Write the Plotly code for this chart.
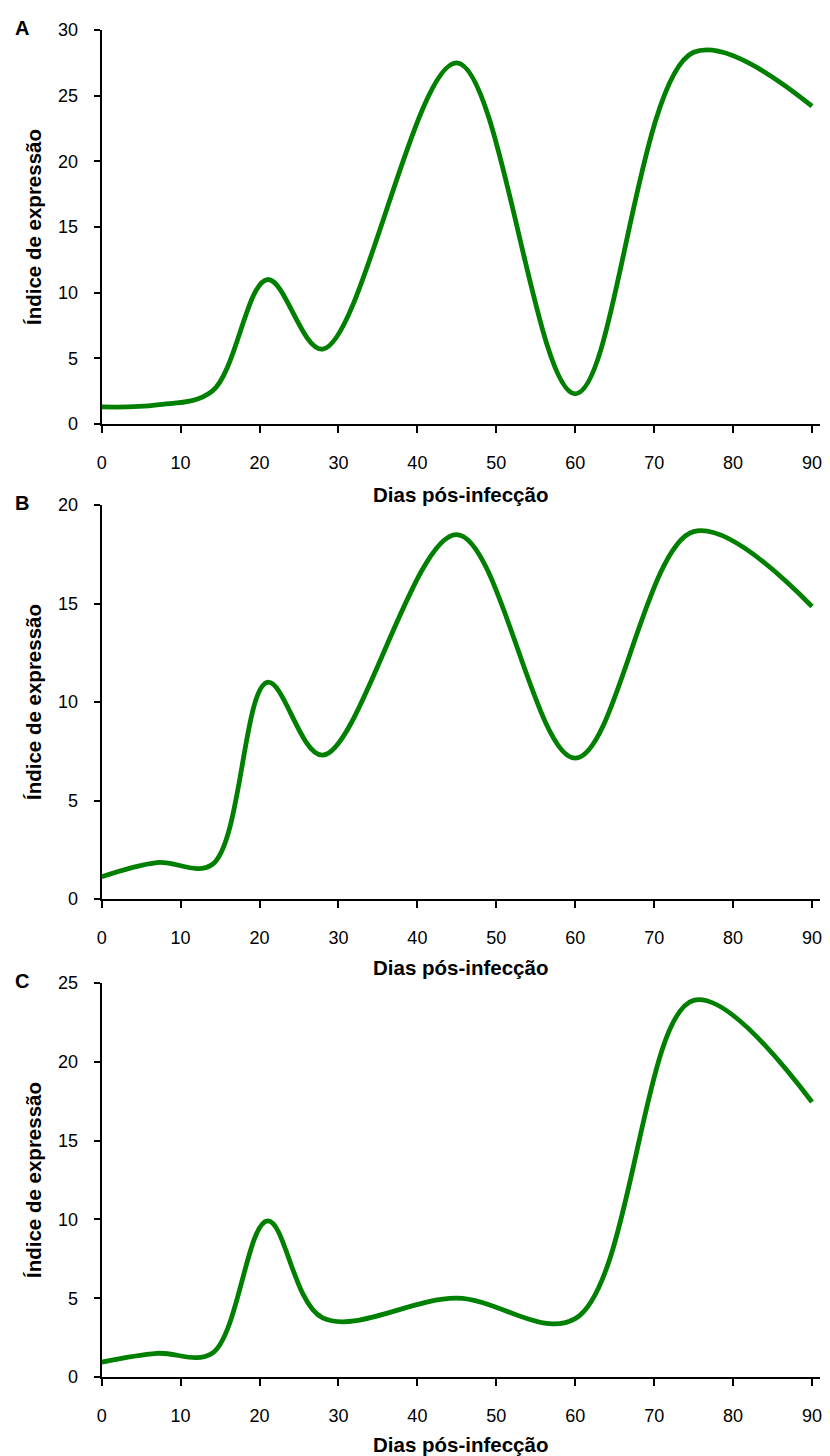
import plotly.graph_objects as go

# Days post-infection at which expression was measured
dias = [0, 7, 14, 21, 28, 45, 60, 75, 90]

# Expression index per panel
expr_a = [1.3, 1.45, 2.5, 11.0, 5.7, 27.5, 2.3, 28.3, 24.2]
expr_b = [1.13, 1.85, 1.75, 11.0, 7.3, 18.5, 7.15, 18.65, 14.85]
expr_c = [0.95, 1.5, 1.5, 9.9, 3.75, 5.0, 3.7, 23.9, 17.45]

panel_labels = ["A", "B", "C"]
y_max = [30, 20, 25]
x_ticks = [0, 10, 20, 30, 40, 50, 60, 70, 80, 90]

W, H = 830, 1456
GREEN = "#008000"
FONT = "Liberation Sans, Arial, sans-serif"

# pixel geometry of each plot area (left, right, top, bottom)
x_left, x_right = 101.7, 820
panels_px = [(30, 424), (505, 899), (983, 1377)]
xtitle_px = [494, 967, 1444]

fig = go.Figure()
series = [expr_a, expr_b, expr_c]

for i, (vals, (top, bot)) in enumerate(zip(series, panels_px)):
    n = "" if i == 0 else str(i + 1)
    xa, ya = "x" + n, "y" + n
    fig.add_trace(go.Scatter(
        x=dias, y=vals, mode="lines",
        line=dict(color=GREEN, width=4.8, shape="spline", smoothing=1.0),
        xaxis=xa, yaxis=ya, showlegend=False, hoverinfo="skip",
    ))
    axis_common = dict(
        showgrid=False, zeroline=False, showline=True, linecolor="black",
        linewidth=2, ticks="outside", tickcolor="black", tickwidth=2,
        tickfont=dict(family=FONT, size=18, color="black"),
        automargin=False,
    )
    fig.layout["xaxis" + n] = dict(
        axis_common, domain=[x_left / W, x_right / W],
        range=[0, (x_right - x_left) / ((812 - x_left) / 90)],
        tickmode="array", tickvals=x_ticks, ticklen=7,
        ticklabelstandoff=14, anchor=ya,
    )
    fig.layout["yaxis" + n] = dict(
        axis_common, domain=[1 - bot / H, 1 - top / H],
        range=[0, y_max[i]], dtick=5, tick0=0, ticklen=6,
        ticklabelstandoff=12, anchor=xa,
    )
    # panel letter
    fig.add_annotation(
        text="<b>%s</b>" % panel_labels[i], xref="paper", yref="paper",
        x=22 / W, y=1 - (top - 2) / H, showarrow=False,
        font=dict(family=FONT, size=20, color="black"),
        xanchor="center", yanchor="middle",
    )
    # axis titles
    fig.add_annotation(
        text="<b>Dias pós-infecção</b>", xref="paper", yref="paper",
        x=(x_left + x_right) / 2 / W, y=1 - xtitle_px[i] / H,
        showarrow=False, font=dict(family=FONT, size=20.5, color="black"),
        xanchor="center", yanchor="middle",
    )
    fig.add_annotation(
        text="<b>Índice de expressão</b>", xref="paper", yref="paper",
        x=33 / W, y=1 - (top + bot) / 2 / H, textangle=-90,
        showarrow=False, font=dict(family=FONT, size=20.5, color="black"),
        xanchor="center", yanchor="middle",
    )

fig.update_layout(
    width=W, height=H,
    margin=dict(l=0, r=0, t=0, b=0, pad=0, autoexpand=False),
    paper_bgcolor="white", plot_bgcolor="white",
)

# drop the default page margin so the figure sits at the window origin
fig.write_html("out.html", post_script="document.body.style.margin='0';")
